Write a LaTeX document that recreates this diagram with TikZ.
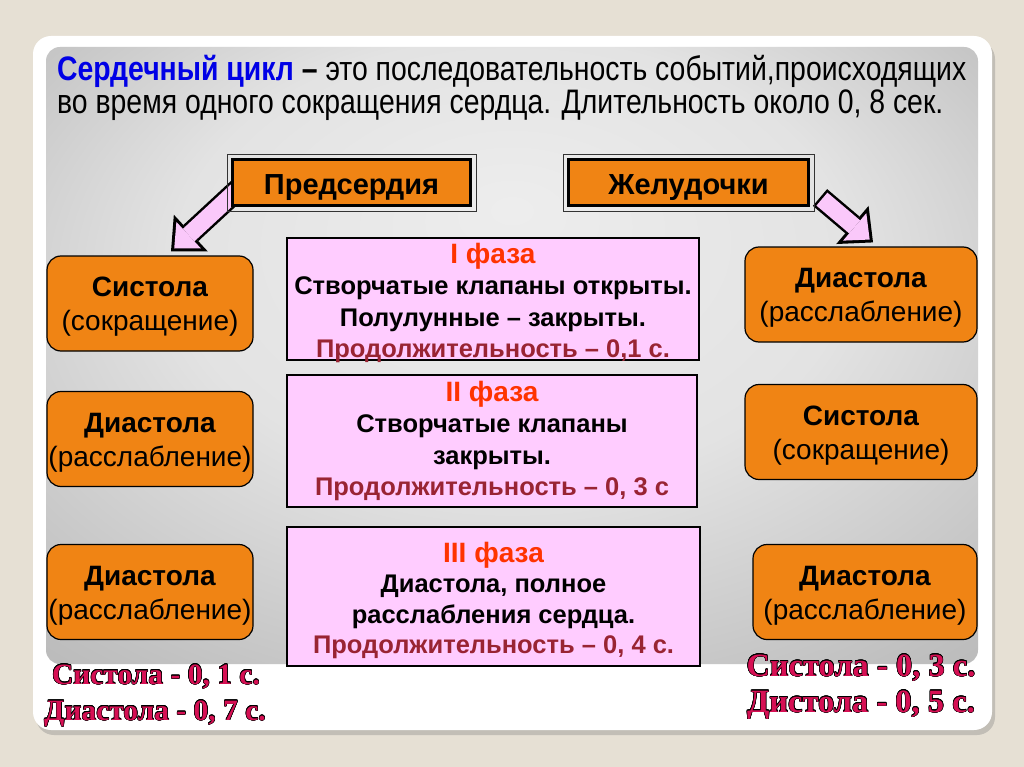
\documentclass[tikz,border=0pt]{standalone}
\usepackage{fontspec}
\setmainfont{Liberation Sans}
\newfontfamily\narrowfont[FakeStretch=0.835]{Liberation Sans}
\newfontfamily\timesfont{Liberation Serif}
\usepackage{contour}
\contourlength{0.5pt}
\contournumber{16}
\usetikzlibrary{arrows.meta}
\usetikzlibrary{calc}
\usetikzlibrary{shadows}

\definecolor{slidebg}{RGB}{230,224,212}
\definecolor{boxorange}{RGB}{240,132,20}
\definecolor{phasepink}{RGB}{255,204,255}
\definecolor{arrowpink}{RGB}{250,200,250}
\definecolor{phasered}{RGB}{255,51,0}
\definecolor{durred}{RGB}{153,36,51}
\definecolor{titleblue}{RGB}{0,0,230}
\definecolor{crimson}{RGB}{214,16,84}

\pgfdeclareradialshading{panelshade}{\pgfpoint{0bp}{12bp}}{color(0bp)=(black!7); color(18bp)=(black!11); color(35bp)=(black!25); color(50bp)=(black!35)}

\pgfdeclarelayer{bg}
\pgfdeclarelayer{arr}
\pgfsetlayers{bg,arr,main}

\tikzset{
	topbox/.style={draw=black,line width=3pt,fill=boxorange,inner sep=0pt,font=\bfseries\fontsize{29}{32}\selectfont},
	frame/.style={draw=black!80,line width=0.8pt},
	sidebox/.style={draw=black,line width=1.2pt,fill=boxorange,rounded corners=14pt,align=center,inner sep=0pt,font=\fontsize{28}{34}\selectfont},
	phasebox/.style={draw=black,line width=1.8pt,fill=phasepink,align=center,inner sep=0pt,font=\bfseries\fontsize{25.5}{31.5}\selectfont},
	sumtext/.style={anchor=base,inner sep=0pt,text=crimson,font=\timesfont\bfseries\fontsize{29.5}{32}\selectfont},
	sumbig/.style={font=\timesfont\bfseries\fontsize{32.5}{34}\selectfont},
	arrowout/.style={draw=black,line width=22pt,-{Triangle[length=27pt,width=50pt,line width=0pt]}},
	arrowin/.style={draw=arrowpink,line width=17pt,shorten <=2.5pt,shorten >=4.4pt,-{Triangle[length=19.6pt,width=36pt,line width=0pt]}}
}
\newcommand{\phasehead}[1]{\textcolor{phasered}{\fontsize{28}{31.5}\selectfont #1}}
\newcommand{\sidehead}[1]{\rule{0pt}{26pt}\textbf{#1}}
\newcommand{\tophead}[1]{\rule{0pt}{30pt}#1}

\begin{document}
\begin{tikzpicture}[x=1pt,y=-1pt]
	\useasboundingbox (0,0) rectangle (1024,767);

	% slide
	\begin{pgfonlayer}{bg}
		\fill[slidebg] (0,0) rectangle (1024,767);
		\fill[white,rounded corners=18pt,drop shadow={shadow xshift=3pt,shadow yshift=-5pt,opacity=0.35}] (33,36) rectangle (992,730);
		\shade[shading=panelshade,rounded corners=14pt] (46,47) rectangle (978,664);
	\end{pgfonlayer}

	\node (title) [anchor=north west,align=left,inner sep=0pt,font=\narrowfont\fontsize{34}{33}\selectfont] at (57,55)
		{\textcolor{titleblue}{\textbf{Сердечный цикл}} \textbf{–} это последовательность событий,происходящих\\во время одного сокращения сердца. Длительность около 0, 8 сек.};

	\node (atria) [topbox,minimum width=238,minimum height=46] at (351.5,182.5) {\tophead{Предсердия}};
	\node (ventr) [topbox,minimum width=240,minimum height=46] at (688.5,182.5) {\tophead{Желудочки}};
	\draw[frame] ($(atria.north west)+(-4,-4)$) rectangle ($(atria.south east)+(4,4)$);
	\draw[frame] ($(ventr.north west)+(-4,-4)$) rectangle ($(ventr.south east)+(4,4)$);

	\node (sysL) [sidebox,minimum width=206,minimum height=95] at (150,303.5) {\sidehead{Систола}\\(сокращение)};
	\node (diaL) [sidebox,minimum width=206,minimum height=95] at (150,439) {\sidehead{Диастола}\\(расслабление)};
	\node (diaLL) [sidebox,minimum width=206,minimum height=95] at (150,592) {\sidehead{Диастола}\\(расслабление)};

	\node (diaR) [sidebox,minimum width=232,minimum height=95] at (861,294.5) {\sidehead{Диастола}\\(расслабление)};
	\node (sysR) [sidebox,minimum width=232,minimum height=95] at (861,432) {\sidehead{Систола}\\(сокращение)};
	\node (diaRR) [sidebox,minimum width=224,minimum height=95] at (865,592) {\sidehead{Диастола}\\(расслабление)};

	\node (ph1) [phasebox,minimum width=412,minimum height=122] at (493,299)
		{\rule{0pt}{23pt}\phasehead{I фаза}\\Створчатые клапаны открыты.\\Полулунные – закрыты.\\\textcolor{durred}{\smash{Продолжительность – 0,1 с.}}};
	\node (ph2) [phasebox,minimum width=410,minimum height=132] at (492,441)
		{\phasehead{II фаза}\\Створчатые клапаны\\закрыты.\\\textcolor{durred}{Продолжительность – 0, 3 с}};
	\node (ph3) [phasebox,minimum width=413,minimum height=139,font=\bfseries\fontsize{25.5}{30.5}\selectfont] at (493.5,596.5)
		{\rule{0pt}{28pt}\phasehead{III фаза}\\Диастола, полное\\расслабления сердца.\\\textcolor{durred}{Продолжительность – 0, 4 с.}};

	% arrows
	\coordinate (tailL) at ($(atria.west)+(8,6)$);
	\coordinate (tipL) at ($(sysL.north)+(21,-4)$);
	\coordinate (tailR) at ($(ventr.east)+(10,15)$);
	\coordinate (tipR) at ($(diaR.north)+(12,-4)$);
	\begin{pgfonlayer}{arr}
		\draw[arrowout] (tailL) -- (tipL);
		\draw[arrowin] (tailL) -- (tipL);
		\draw[arrowout] (tailR) -- (tipR);
		\draw[arrowin] (tailR) -- (tipR);
	\end{pgfonlayer}

	\node (sumL1) [sumtext] at (156,684) {\contour{black}{Систола - 0, 1 с.}};
	\node (sumL2) [sumtext] at (155,720) {\contour{black}{Диастола - 0, 7 с.}};
	\node (sumR1) [sumtext,sumbig] at (861,676) {\contour{black}{Систола - 0, 3 с.}};
	\node (sumR2) [sumtext,sumbig] at (861,712) {\contour{black}{Дистола - 0, 5 с.}};
\end{tikzpicture}
\end{document}
